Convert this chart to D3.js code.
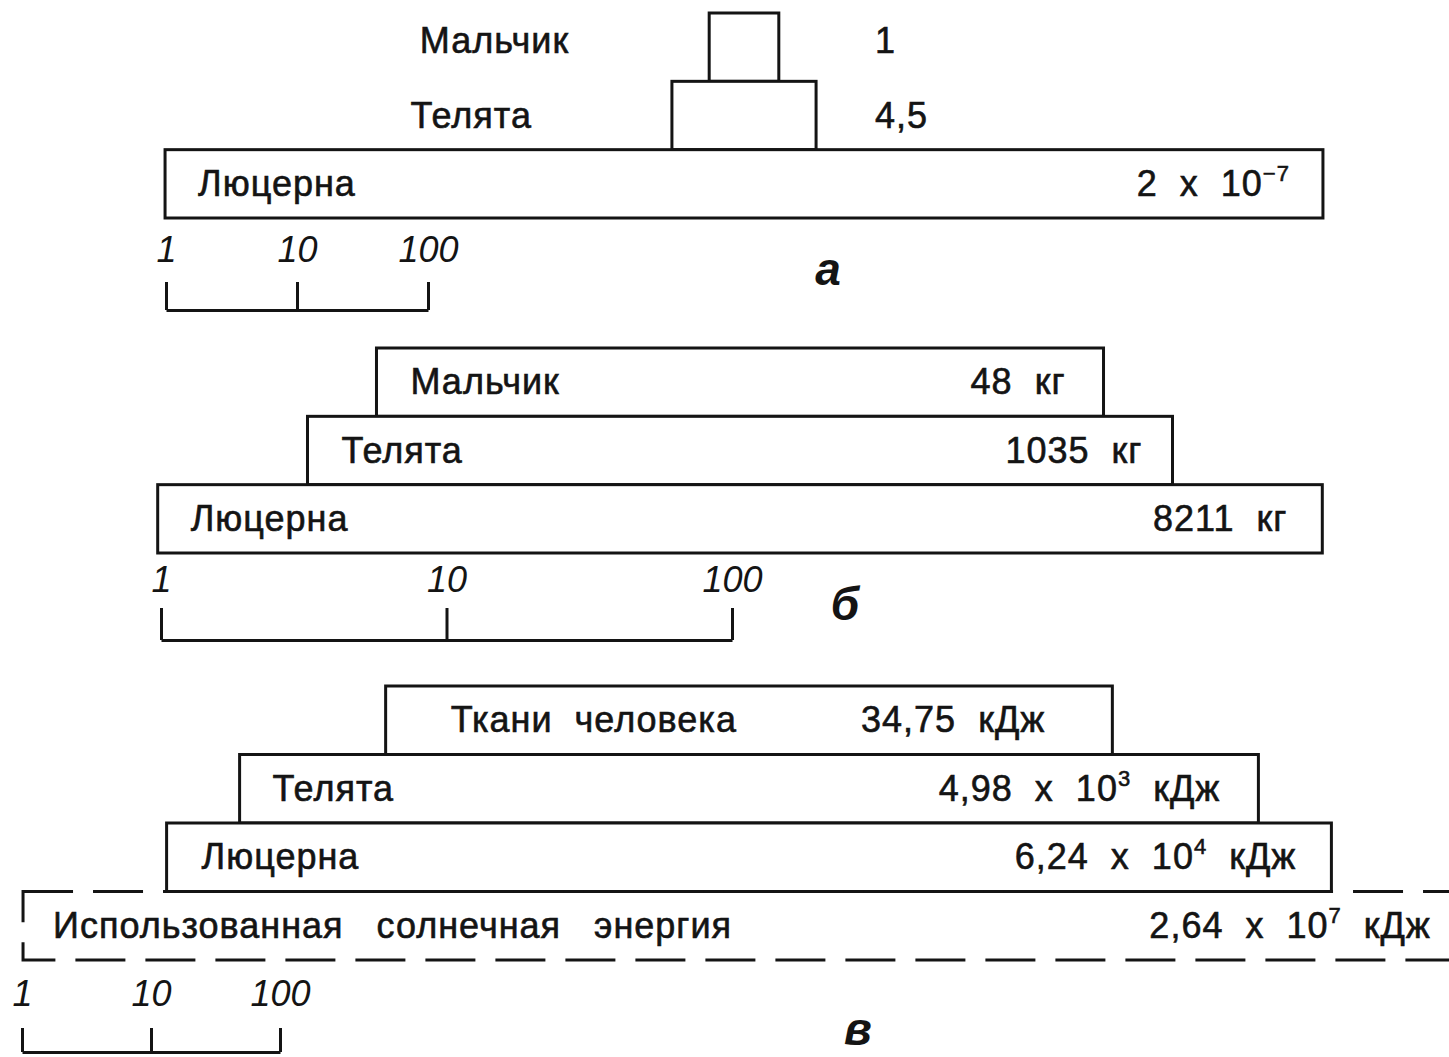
<!DOCTYPE html>
<html lang="ru">
<head>
  <meta charset="utf-8">
  <title>Экологические пирамиды</title>
  <script src="https://cdn.jsdelivr.net/npm/d3@7"></script>
  <style>
    body { margin: 0; background: #fff; }
    svg text { font-family: "Liberation Sans", Arial, sans-serif; fill: #141414; white-space: pre; }
    .box { fill: #fff; stroke: #141414; stroke-width: 3; }
    .box.dashed { fill: none; stroke-dasharray: 50 20; }
    .name, .value { font-size: 36px; letter-spacing: 1px; stroke: #141414; stroke-width: 0.6px; }
    .value .exp { font-size: 22px; }
    .scale text { font-style: italic; font-size: 36px; }
    .scale path, .scale line { stroke: #141414; stroke-width: 3; }
    .tag { font-style: italic; font-weight: bold; font-size: 46px; }
  </style>
</head>
<body>
<svg id="chart" width="1449" height="1057"></svg>
<script>
  // а — численность
  const namesA = ["Мальчик", "Телята", "Люцерна"];
  const valuesA = ["1", "4,5", "2  x  10"];
  const expA = ["", "", "−7"];
  const unitsA = ["", "", ""];
  const extentA = [3.4, 12.6, 6.9e8];   // ширина блока по логарифмической шкале

  // б — биомасса
  const namesB = ["Мальчик", "Телята", "Люцерна"];
  const valuesB = ["48", "1035", "8211"];
  const expB = ["", "", ""];
  const unitsB = ["  кг", "  кг", "  кг"];
  const extentB = [352, 1071, 1.2e4];

  // в — энергия
  const namesC = ["Ткани  человека", "Телята", "Люцерна", "Использованная   солнечная   энергия"];
  const valuesC = ["34,75", "4,98  x  10", "6,24  x  10", "2,64  x  10"];
  const expC = ["", "3", "4", "7"];
  const unitsC = ["  кДж", "  кДж", "  кДж", "  кДж"];
  const extentC = [4.3e5, 7.9e7, 1.07e9, 1.8e11];

  const scaleTicks = [1, 10, 100];
  const tags = ["а", "б", "в"];

  const svg = d3.select("#chart");

  const panels = [
    { names: namesA, values: valuesA, exps: expA, units: unitsA, extents: extentA,
      cx: 744, top: 13, bottom: 218, span: 262, sx: 166, sy: 310, tick: 28, pad: 20,
      tagX: 828, tagY: 285, outside: [true, true, false], padL: [34, 34, 33], padR: [34, 34, 33] },
    { names: namesB, values: valuesB, exps: expB, units: unitsB, extents: extentB,
      cx: 740, top: 348, bottom: 553, span: 571, sx: 161, sy: 640, tick: 32, pad: 16,
      tagX: 845, tagY: 620, outside: [false, false, false], padL: [34, 34, 33], padR: [38, 30, 35] },
    { names: namesC, values: valuesC, exps: expC, units: unitsC, extents: extentC,
      cx: 749, top: 686, bottom: 960, span: 258, sx: 22, sy: 1052, tick: 24, pad: 22,
      tagX: 858, tagY: 1045, outside: [false, false, false, false], padL: [65, 33, 35, 30], padR: [67, 38, 35, 44],
      dashed: 3 }
  ];

  panels.forEach(function (p, k) {
    const g = svg.append("g");
    const x = d3.scaleLog().domain([1, 100]).range([0, p.span]);
    const y = d3.scaleBand().domain(p.names).range([p.top, p.bottom]);

    const rows = p.names.map(function (n, i) {
      const w = x(p.extents[i]);
      return { i: i, name: n, value: p.values[i], exp: p.exps[i], unit: p.units[i],
               left: p.cx - w / 2, right: p.cx + w / 2, w: w, y: y(n) };
    });

    // blocks
    g.selectAll("rect.box").data(rows).join("rect")
      .attr("class", d => d.i === p.dashed ? "box dashed" : "box")
      .attr("x", d => d.left)
      .attr("y", d => d.y)
      .attr("width", d => d.w)
      .attr("height", y.bandwidth());

    // names
    g.selectAll("text.name").data(rows).join("text")
      .attr("class", "name")
      .attr("x", d => p.outside[d.i] ? d.left - 140 : d.left + p.padL[d.i])
      .attr("y", d => d.y + y.bandwidth() / 2 + 12 - (k === 0 && d.i === 0 ? 6 : 0))
      .attr("text-anchor", d => p.outside[d.i] ? "end" : "start")
      .text(d => d.name);

    // values
    const val = g.selectAll("text.value").data(rows).join("text")
      .attr("class", "value")
      .attr("x", d => p.outside[d.i] ? 875 : d.right - p.padR[d.i])
      .attr("y", d => d.y + y.bandwidth() / 2 + 12 - (k === 0 && d.i === 0 ? 6 : 0))
      .attr("text-anchor", d => p.outside[d.i] ? "start" : "end");
    val.append("tspan").text(d => d.value);
    val.filter(d => d.exp).append("tspan").attr("class", "exp").attr("dy", -15).text(d => d.exp);
    val.filter(d => d.unit).append("tspan").attr("dy", d => d.exp ? 15 : 0).text(d => d.unit);

    // logarithmic scale bar
    g.append("g")
      .attr("class", "scale")
      .attr("transform", `translate(${p.sx},${p.sy})`)
      .call(d3.axisTop(x).tickValues(scaleTicks).tickFormat(d3.format("d"))
        .tickSize(p.tick).tickSizeOuter(0).tickPadding(p.pad));

    g.append("text")
      .attr("class", "tag")
      .attr("x", p.tagX)
      .attr("y", p.tagY)
      .attr("text-anchor", "middle")
      .text(tags[k]);
  });
</script>
</body>
</html>
